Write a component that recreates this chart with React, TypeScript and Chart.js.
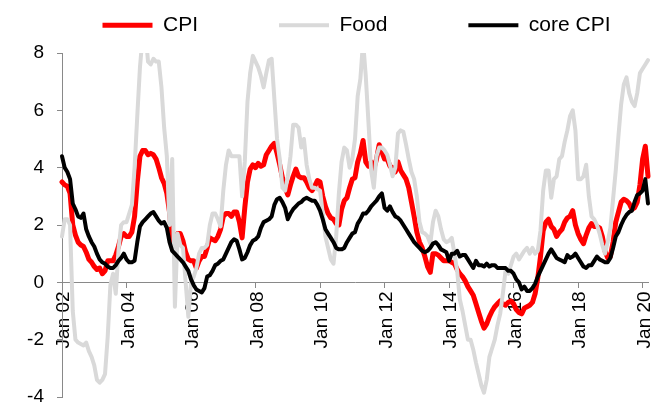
import React, { useEffect, useRef } from 'react';
import { Chart, registerables } from 'chart.js';

Chart.register(...registerables);

// ---- Data (monthly, Jan 2002 .. Mar 2020), % y/y ----
const startYear = 2002;
const monthNames = ['Jan', 'Feb', 'Mar', 'Apr', 'May', 'Jun', 'Jul', 'Aug', 'Sep', 'Oct', 'Nov', 'Dec'];

const cpi: number[] = [
  3.5, 3.4, 3.35, 3.1, 2.0, 1.65, 1.4, 1.3, 1.25, 1.05, 0.8, 0.7,
  0.55, 0.45, 0.5, 0.3, 0.4, 0.75, 0.75, 0.75, 0.95, 1.25, 1.6, 1.7,
  1.6, 1.6, 1.75, 2.3, 3.5, 4.4, 4.6, 4.6, 4.45, 4.5, 4.45, 4.3,
  4.0, 3.65, 3.45, 3.1, 2.45, 1.35, 1.45, 1.7, 1.7, 1.45, 1.05, 0.8,
  0.75, 0.75, 0.5, 0.75, 0.9, 0.9, 1.2, 1.55, 1.5, 1.45, 1.6, 1.85,
  2.3, 2.4, 2.4, 2.3, 2.45, 2.45, 2.1, 1.55, 2.6, 3.5, 3.95, 4.1,
  4.0, 4.15, 4.05, 4.1, 4.45, 4.6, 4.75, 4.85, 4.5, 4.1, 3.65, 3.3,
  3.05, 3.4, 3.7, 3.95, 3.7, 3.65, 3.65, 3.5, 3.3, 3.2, 3.35, 3.55,
  3.5, 3.0, 2.65, 2.4, 2.25, 2.2, 2.05, 2.0, 2.55, 2.85, 2.95, 3.3,
  3.6, 3.65, 4.2, 4.5, 4.95, 4.2, 4.05, 4.2, 3.95, 4.3, 4.8, 4.55,
  4.3, 4.3, 4.05, 4.0, 3.85, 4.2, 3.9, 3.75, 3.6, 3.3, 2.8, 2.3,
  1.75, 1.4, 1.2, 0.9, 0.55, 0.35, 1.0, 1.0, 0.95, 0.85, 0.75, 0.75,
  0.75, 0.7, 0.65, 0.45, 0.3, 0.2, 0.05, -0.15, -0.3, -0.45, -0.75, -1.05,
  -1.35, -1.6, -1.45, -1.2, -1.0, -0.85, -0.75, -0.65, -0.75, -0.8, -0.7, -0.65,
  -0.75, -0.95, -1.05, -1.1, -0.9, -0.85, -0.8, -0.7, -0.4, 0.15, 0.9, 1.8,
  2.1, 2.2, 1.95, 1.85, 1.6, 1.75, 1.85, 2.1, 2.25, 2.3, 2.5, 2.0,
  1.7, 1.5, 1.35, 1.65, 1.9, 2.05, 1.95, 1.95, 1.9, 1.6, 1.1, 0.85,
  0.9, 1.4, 2.1, 2.45, 2.8, 2.9, 2.85, 2.75, 2.55, 2.6, 2.8, 3.4,
  4.3, 4.75, 3.7,
];

const food: number[] = [
  1.6, 2.2, 2.2, 2.0, -1.0, -2.0, -2.1, -2.15, -2.2, -2.1, -2.4, -2.6,
  -2.9, -3.4, -3.5, -3.4, -3.2, -1.9, -0.1, 0.3, -0.4, 1.1, 2.0, 2.1,
  2.1, 2.4, 2.7, 4.0, 5.8, 7.5, 8.6, 8.8, 7.7, 7.6, 7.8, 7.7,
  7.7, 6.8, 5.4, 4.4, 2.0, 4.3, -0.85, 1.7, 1.3, 1.2, 0.0, -1.2,
  0.0, 0.2, 0.5, 1.0, 1.2, 1.2, 1.3, 2.0, 2.4, 2.4, 2.2, 1.95,
  3.2, 4.1, 4.6, 4.4, 4.4, 4.4, 4.4, 3.0, 4.2, 6.3, 7.3, 7.9,
  7.7, 7.5, 7.2, 6.8, 7.3, 7.75, 7.8, 6.4, 5.0, 4.3, 3.3, 3.2,
  3.7, 4.4, 5.5, 5.5, 5.4, 4.7, 5.0, 4.1, 3.6, 3.3, 3.3, 3.25,
  3.2, 2.4, 1.6, 1.2, 0.8, 0.65, 1.6, 3.1, 4.2, 4.7, 4.6, 4.0,
  4.3, 5.0, 6.5, 7.1, 8.4, 7.2, 5.6, 3.9, 3.3, 4.4, 4.7, 4.7,
  4.6, 4.45, 4.1, 3.7, 4.0, 5.2, 5.3, 5.25, 4.8, 4.3, 3.85, 3.6,
  3.0, 2.1, 1.75, 1.7, 1.6, 1.35, 2.1, 2.5, 2.3, 1.85, 1.5, 1.4,
  1.45, 1.55, 1.0, 0.4, -0.6, -1.0, -1.5, -2.0, -2.0, -2.35, -2.8, -3.2,
  -3.6, -3.85, -3.4, -2.6, -2.3, -2.0, -1.5, -1.1, -0.4, 0.4, 0.3, 0.6,
  0.9, 1.0, 0.8, 0.95, 1.1, 1.2, 1.0, 1.2, 1.0, 1.1, 1.8, 3.2,
  3.9, 3.9, 2.95, 3.6, 3.7, 4.3, 4.4, 4.9, 5.3, 5.8, 6.0, 5.3,
  3.6, 3.6, 3.7, 4.1, 3.0, 2.3, 2.2, 2.0, 1.7, 1.3, 1.0, 1.4,
  1.9, 2.9, 3.9, 5.1, 6.2, 6.9, 7.15, 6.6, 6.3, 6.15, 6.6, 7.3,
  7.45, 7.6, 7.75,
];

const coreCpi: number[] = [
  4.4, 4.0, 3.85, 3.6, 2.75, 2.55, 2.3, 2.25, 2.4, 1.85, 1.6, 1.4,
  1.25, 1.0, 0.8, 0.7, 0.65, 0.55, 0.5, 0.5, 0.6, 0.75, 0.85, 1.0,
  0.8, 0.7, 0.7, 0.75, 1.4, 1.95, 2.1, 2.2, 2.3, 2.4, 2.45, 2.3,
  2.15, 2.05, 2.1, 1.9, 1.4, 1.1, 1.0, 0.9, 0.8, 0.7, 0.55, 0.4,
  0.1, -0.1, -0.25, -0.3, -0.35, -0.2, 0.2, 0.25, 0.4, 0.6, 0.65, 0.75,
  0.8, 1.0, 1.2, 1.4, 1.5, 1.45, 1.15, 0.8, 0.85, 1.05, 1.3, 1.45,
  1.5, 1.6, 1.9, 2.1, 2.15, 2.2, 2.3, 2.7, 2.9, 2.95, 2.8, 2.6,
  2.2, 2.4, 2.55, 2.65, 2.75, 2.8, 2.9, 2.95, 2.9, 2.85, 2.85, 2.7,
  2.5, 2.2, 1.85, 1.7, 1.55, 1.4, 1.2, 1.15, 1.15, 1.2, 1.4, 1.55,
  1.7, 1.75, 2.05, 2.2, 2.4, 2.4, 2.5, 2.65, 2.75, 2.85, 3.0, 3.1,
  2.6, 2.5, 2.65, 2.45, 2.3, 2.25, 2.15, 2.0, 1.85, 1.7, 1.55, 1.4,
  1.3, 1.2, 1.1, 1.05, 1.1, 1.2, 1.35, 1.4, 1.3, 1.15, 1.1, 1.05,
  0.75, 1.0, 1.0, 1.1, 0.9, 0.95, 0.95, 0.8, 0.65, 0.5, 0.75, 0.6,
  0.6, 0.55, 0.65, 0.55, 0.6, 0.6, 0.5, 0.5, 0.5, 0.5, 0.4, 0.4,
  0.3, 0.1, 0.0, -0.25, -0.15, -0.3, -0.3, -0.2, -0.05, 0.2, 0.4, 0.6,
  0.8, 1.0, 1.15, 1.0, 0.85, 0.8, 0.75, 0.7, 0.95, 0.85, 0.9, 1.0,
  0.85, 0.7, 0.55, 0.5, 0.6, 0.6, 0.75, 0.9, 0.8, 0.75, 0.7, 0.7,
  0.85, 1.2, 1.6, 1.75, 2.0, 2.2, 2.35, 2.45, 2.5, 2.8, 3.05, 3.1,
  3.2, 3.6, 2.75,
];

const xTickLabels: string[] = ['Jan 02', 'Jan 04', 'Jan 06', 'Jan 08', 'Jan 10', 'Jan 12', 'Jan 14', 'Jan 16', 'Jan 18', 'Jan 20'];
const yTicks = { min: -4, max: 8, step: 2 };

const months: string[] = cpi.map((_, i) => {
  const y = startYear + Math.floor(i / 12);
  return `${monthNames[i % 12]} ${String(y % 100).padStart(2, '0')}`;
});

// ---- styling ----
const FONT = 'Liberation Sans, Arial, Helvetica, sans-serif';
const AXIS_GRAY = '#898989';
const LEGEND_START_X = 102.5;
const LEGEND_MID_Y = 25.3;
const LEGEND_FONT = 21;
const PLOT_LEFT = 62;

const legendPlacement = {
  id: 'legendPlacement',
  afterLayout(chart: any) {
    const lg = chart.legend;
    if (!lg) return;
    const P = lg.options.labels.padding;
    lg.left = LEGEND_START_X - P;
    lg.right = chart.width + 3000;
    lg.top = LEGEND_MID_Y - LEGEND_FONT / 2 - P;
    lg.bottom = chart.chartArea.top;
    lg.width = lg.right - lg.left;
    lg.height = lg.bottom - lg.top;
  },
};

export default function App() {
  const ref = useRef<HTMLCanvasElement>(null);

  useEffect(() => {
    if (!ref.current) return;
    const common = {
      pointRadius: 0,
      pointHoverRadius: 0,
      tension: 0,
      fill: false,
      borderCapStyle: 'round',
      borderJoinStyle: 'round',
      clip: { left: 3, right: 3, top: 0, bottom: 3 },
    };
    const chart = new Chart(ref.current, {
      type: 'line',
      data: {
        labels: months,
        datasets: [
          { label: 'CPI', data: cpi, borderColor: '#FF0000', backgroundColor: '#FF0000', borderWidth: 5, order: 2, ...common } as any,
          { label: 'Food', data: food, borderColor: '#D9D9D9', backgroundColor: '#D9D9D9', borderWidth: 4, order: 1, ...common } as any,
          { label: 'core CPI', data: coreCpi, borderColor: '#000000', backgroundColor: '#000000', borderWidth: 4, order: 0, ...common } as any,
        ],
      },
      options: {
        responsive: false,
        animation: false,
        devicePixelRatio: 1,
        layout: { padding: { left: 0, right: 19, top: 0, bottom: 7 } },
        plugins: {
          tooltip: { enabled: false },
          legend: {
            position: 'top',
            align: 'start',
            maxHeight: 53,
            labels: {
              usePointStyle: true,
              pointStyle: 'line',
              pointStyleWidth: 50,
              padding: 81,
              color: '#000',
              font: { family: FONT, size: LEGEND_FONT },
              sort: (a: any, b: any) => a.datasetIndex - b.datasetIndex,
            },
          },
        },
        scales: {
          x: {
            type: 'category',
            position: { y: 0 } as any,
            offset: false,
            grid: { drawOnChartArea: false, color: AXIS_GRAY, tickLength: 5, lineWidth: 1 },
            border: { color: AXIS_GRAY, width: 1 },
            ticks: {
              autoSkip: false,
              maxRotation: 90,
              minRotation: 90,
              padding: 4,
              labelOffset: 2,
              color: '#000',
              font: { family: FONT, size: 19 },
            },
            afterBuildTicks: (scale: any) => {
              scale.ticks = scale.ticks.filter((t: any) => xTickLabels.includes(months[t.value]));
            },
            afterFit: (scale: any) => {
              scale.paddingLeft = 0;
              scale.paddingRight = 0;
            },
          } as any,
          y: {
            min: yTicks.min,
            max: yTicks.max,
            grid: { drawOnChartArea: false, color: AXIS_GRAY, tickLength: 5, lineWidth: 1 },
            border: { color: AXIS_GRAY, width: 1 },
            ticks: {
              stepSize: yTicks.step,
              padding: 13,
              color: '#000',
              font: { family: FONT, size: 19 },
            },
            afterFit: (scale: any) => {
              scale.width = PLOT_LEFT;
              scale.paddingTop = 0;
              scale.paddingBottom = 0;
            },
          },
        },
      },
      plugins: [legendPlacement],
    } as any);
    return () => chart.destroy();
  }, []);

  return (
    <div style={{ position: 'fixed', left: 0, top: 0, width: 667, height: 404, background: '#fff' }}>
      <canvas ref={ref} width={667} height={404} style={{ display: 'block', width: 667, height: 404 }} />
    </div>
  );
}
